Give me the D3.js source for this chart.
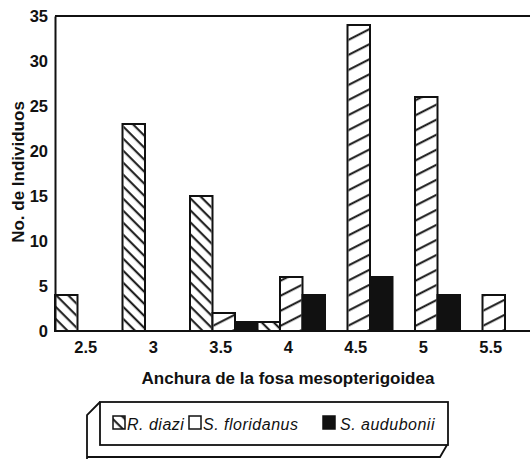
<!DOCTYPE html>
<html>
<head>
<meta charset="utf-8">
<title>Anchura de la fosa mesopterigoidea</title>
<script src="https://d3js.org/d3.v7.min.js"></script>
<style>
  body { margin: 0; background: #fff; }
  svg { display: block; }
  .tick text { font: bold 16.5px "Liberation Sans", Arial, sans-serif; fill: #111; }
  .title { font: bold 17px "Liberation Sans", Arial, sans-serif; fill: #111; }
  .leg { font: italic 16px "Liberation Sans", Arial, sans-serif; fill: #111; letter-spacing: 0.5px; }
</style>
</head>
<body>
<svg id="chart" width="530" height="459"></svg>
<script>
// anchura (mm) por grupo
var categories = ["2.5", "3", "3.5", "4", "4.5", "5", "5.5"];
var seriesNames = ["R. diazi", "S. floridanus", "S. audubonii"];
var rDiazi       = [4, 23, 15, 1, 0, 0, 0];
var sFloridanus  = [0, 0, 2, 6, 34, 26, 4];
var sAudubonii   = [0, 0, 1, 4, 6, 4, 0];
var yTicks = [0, 5, 10, 15, 20, 25, 30, 35];

var svg = d3.select("#chart");
var mLeft = 55, mTop = 16, mBottom = 331;

// hatch patterns
var defs = svg.append("defs");
defs.append("pattern")
    .attr("id", "hatchBack")
    .attr("patternUnits", "userSpaceOnUse")
    .attr("width", 20).attr("height", 8.5)
    .attr("patternTransform", "rotate(45)")
  .append("line")
    .attr("x1", 0).attr("x2", 20).attr("y1", 4).attr("y2", 4)
    .attr("stroke", "#111").attr("stroke-width", 2);
defs.append("pattern")
    .attr("id", "hatchFwd")
    .attr("patternUnits", "userSpaceOnUse")
    .attr("width", 20).attr("height", 13.4)
    .attr("patternTransform", "rotate(-27)")
  .append("line")
    .attr("x1", 0).attr("x2", 20).attr("y1", 6).attr("y2", 6)
    .attr("stroke", "#111").attr("stroke-width", 2);

var fills = ["url(#hatchBack)", "url(#hatchFwd)", "#111"];

var x0 = d3.scaleBand().domain(categories).range([mLeft, mLeft + 7 * 67.5]).padding(0);
var x1 = d3.scaleBand().domain(seriesNames).range([0, x0.bandwidth()]).padding(0);
var y = d3.scaleLinear().domain([0, 35]).range([mBottom, mTop]);

var rows = categories.map(function(c, i) {
  return { cat: c, vals: [rDiazi[i], sFloridanus[i], sAudubonii[i]] };
});

var groups = svg.append("g").selectAll("g")
  .data(rows)
  .enter().append("g")
    .attr("transform", function(d) { return "translate(" + x0(d.cat) + ",0)"; });

function barsOf(d) {
  return d.vals.map(function(v, k) { return { name: seriesNames[k], k: k, v: v }; })
    .filter(function(e) { return e.v > 0; });
}

groups.selectAll("rect.b")
  .data(barsOf)
  .enter().append("rect")
    .attr("class", "b")
    .attr("x", function(d) { return x1(d.name); })
    .attr("y", function(d) { return y(d.v); })
    .attr("width", x1.bandwidth())
    .attr("height", function(d) { return y(0) - y(d.v); })
    .attr("fill", function(d) { return d.k == 2 ? "#111" : "#fff"; })
    .attr("stroke", "#111")
    .attr("stroke-width", 2);

// hatch overlay
groups.selectAll("rect.h")
  .data(function(d) { return barsOf(d).filter(function(e) { return e.k < 2; }); })
  .enter().append("rect")
    .attr("class", "h")
    .attr("x", function(d) { return x1(d.name) + 1; })
    .attr("y", function(d) { return y(d.v) + 1; })
    .attr("width", x1.bandwidth() - 2)
    .attr("height", function(d) { return Math.max(0, y(0) - y(d.v) - 2); })
    .attr("fill", function(d) { return fills[d.k]; });

// frame lines
svg.append("line").attr("x1", mLeft).attr("x2", 530).attr("y1", mTop).attr("y2", mTop)
  .attr("stroke", "#111").attr("stroke-width", 2);

var yAxis = svg.append("g")
  .attr("transform", "translate(" + mLeft + ",0)")
  .call(d3.axisLeft(y).tickValues(yTicks).tickSize(0).tickPadding(7));
yAxis.select(".domain").attr("stroke", "#111").attr("stroke-width", 2);
yAxis.selectAll(".tick text").attr("dy", "0.36em");

var xAxis = svg.append("g")
  .attr("transform", "translate(0," + mBottom + ")")
  .call(d3.axisBottom(x0).tickSize(0).tickPadding(10));
xAxis.select(".domain").remove();
xAxis.selectAll(".tick text").attr("dx", -3);
svg.append("line").attr("x1", mLeft - 1).attr("x2", 530).attr("y1", mBottom).attr("y2", mBottom)
  .attr("stroke", "#111").attr("stroke-width", 2);

// axis titles
svg.append("text").attr("class", "title")
  .attr("x", 288).attr("y", 384).attr("text-anchor", "middle")
  .text("Anchura de la fosa mesopterigoidea");
svg.append("text").attr("class", "title")
  .attr("transform", "translate(24,172) rotate(-90)")
  .attr("text-anchor", "middle")
  .text("No. de Individuos");

// legend box (3D look)
var lg = svg.append("g").attr("fill", "none").attr("stroke", "#111").attr("stroke-width", 1.8);
lg.append("rect").attr("x", 100).attr("y", 402).attr("width", 348).attr("height", 43).attr("fill", "#fff");
lg.append("path").attr("d", "M100,402 L87,415 L87,460 M87,457 L440,457 L447,445");

var legItems = [
  { name: seriesNames[0], fill: "url(#hatchBack)", sx: 113, tx: 127 },
  { name: seriesNames[1], fill: "#fff", sx: 189, tx: 203 },
  { name: seriesNames[2], fill: "#111", sx: 323, tx: 340 }
];
var li = svg.append("g").selectAll("g").data(legItems).enter().append("g");
li.append("rect")
  .attr("x", function(d) { return d.sx; }).attr("y", 416)
  .attr("width", 12).attr("height", 13)
  .attr("fill", function(d) { return d.fill; })
  .attr("stroke", "#111").attr("stroke-width", 1.5);
li.append("text").attr("class", "leg")
  .attr("x", function(d) { return d.tx; }).attr("y", 430)
  .text(function(d) { return d.name; });
</script>
</body>
</html>
